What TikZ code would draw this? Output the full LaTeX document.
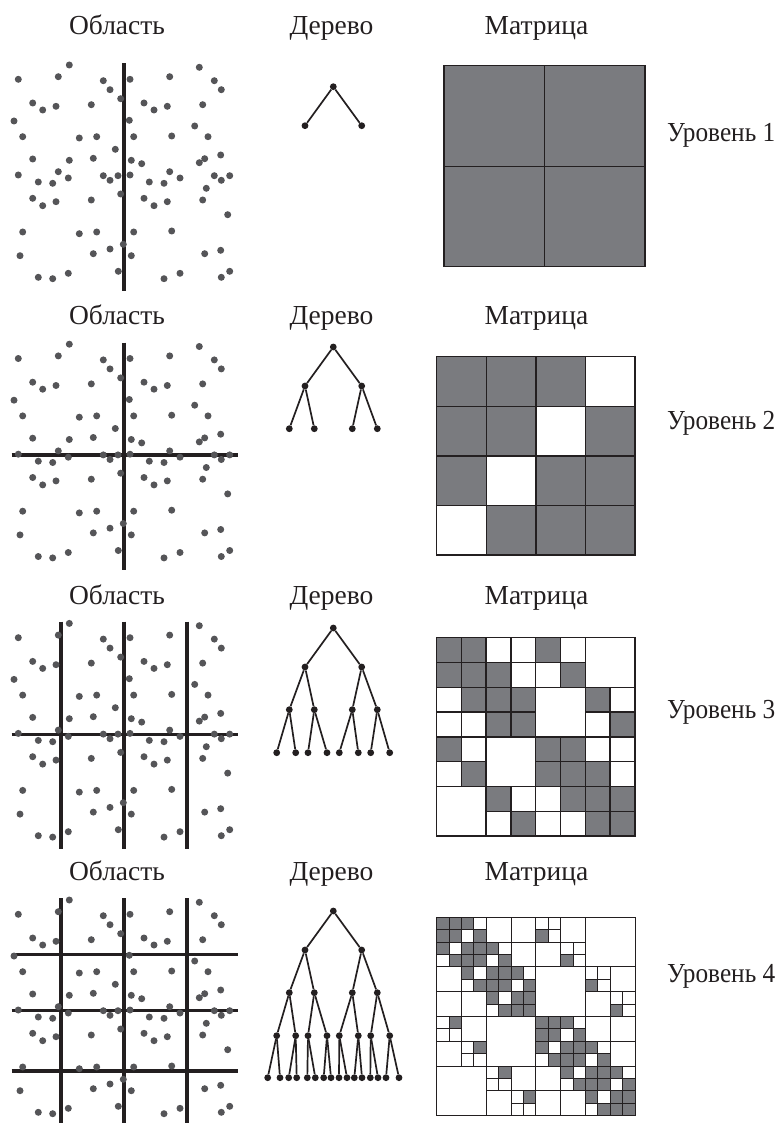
\documentclass[tikz,border=0pt]{standalone}
\usepackage{graphicx}
\usepackage{fontspec}
\setmainfont{Liberation Serif}
\definecolor{ink}{RGB}{35,31,32}
\definecolor{dotc}{RGB}{85,85,88}
\definecolor{mg}{RGB}{122,123,127}
\begin{document}
\begin{tikzpicture}[x=1pt,y=-1pt,
  lab/.style={font=\fontsize{27.5}{30}\selectfont,text=ink,anchor=base,inner sep=0pt},
  lvl/.style={font=\fontsize{27.5}{30}\selectfont,text=ink,anchor=base west,inner sep=0pt},
  pnt/.style={circle,fill=dotc,inner sep=0pt,minimum size=7pt},
  tn/.style={circle,fill=ink,inner sep=0pt,minimum size=6.8pt},
  tedge/.style={draw=ink,line width=1.7pt},
  cut/.style={draw=ink,line width=3.3pt},
  mline/.style={draw=ink,line width=1.3pt},
  mline4/.style={draw=ink,line width=1pt},
]
\useasboundingbox (0,0) rectangle (779,1123);

% ---------- column headers ----------
\foreach \k/\b in {1/34.3,2/324,3/604,4/880}{
  \node[lab] (obl\k) at (117,\b) {Область};
  \node[lab] (der\k) at (331.5,\b) {Дерево};
  \node[lab] (mat\k) at (536.5,\b) {Матрица};
}
\foreach \k/\b in {1/141.7,2/429,3/718,4/982}
  \node[lvl] (lev\k) at (667,\b) {\scalebox{0.92}[1]{Уровень \k}};

% ---------- domain cuts ----------
\draw[cut] (124,63.3) -- (124,291);
\draw[cut] (124,342.5) -- (124,570.2);
\draw[cut] (11.7,455.1) -- (238.3,455.1);
\foreach \x in {61,124,187} \draw[cut] (\x,621.7) -- (\x,849.4);
\draw[cut] (11.7,734.3) -- (238.3,734.3);
\foreach \x in {61,124,187} \draw[cut] (\x,898.3) -- (\x,1126);
\foreach \y in {954.3,1010.7,1071} \draw[cut] (11.7,\y) -- (238.3,\y);

% ---------- points ----------
\foreach \k/\o in {1/0,2/279.2,3/558.4,4/835}{
  \foreach \x/\y [count=\n] in {69.3/65,199.3/67.3,18.3/79.3,58.3/76.7,103.3/80.7,130/79.3,169.7/76.7,214.3/80.7,110/89.7,221.3/89.7,120.7/98.7,32.7/103,42.7/110,56/106.3,91.3/104.7,144/103,154/110,167.3/106.3,202.7/104.7,14/121,129.3/120.3,194.7/126,22.7/136.7,79.3/138,96.7/136.7,133.7/136.7,171.7/136,208/136.7,115.3/149.3,32.7/159,69.3/160.3,93.3/158.3,131.3/160.3,141.7/163.7,199.3/162.7,204.7/158.7,220.7/155,18.3/175,58.3/171.7,68.3/178,103.3/175.7,110/180.3,118/175.7,130/175,169.7/171.7,180/178,214.3/175.7,221.3/180.3,229.7/175.7,38.3/182,52.7/183.3,149.3/182,164/183.3,206.3/188.3,120.7/194,32.7/198.3,42.7/205.7,56/201.7,91.3/200,144/198.3,154/205.7,167.3/201.7,202.7/200,227.7/214.7,22.7/232,79.3/233.7,96.7/232,133.7/232,171.7/231,123.3/244.3,110/249,20/255.7,93.3/253.7,131.3/255.7,204.7/253.7,220.7/250.3,118.3/271.3,38.3/277.3,52.7/278.7,68.3/273.3,164/278.7,180/273.3,221.3/277.3,229.7/271.3}
    \node[pnt] (p\k-\n) at (\x,\y+\o) {};
}

% ---------- trees ----------
\foreach \L/\Y in {1/86.7,2/347,3/628,4/911}{
  \node[tn] (t\L-0-0) at (333.3,\Y) {};
  \foreach \d/\dy/\xs in {1/39/{305,361.7},
      2/81.7/{289.3,314.3,352.3,377.3},
      3/124.7/{276.7,295.7,308,327,339.3,358.3,370.7,389.7},
      4/166.7/{267.7,280,288.7,296.7,307.3,315.3,323.7,331,339,347,354.3,362,370.3,378,386,399}}{
    \ifnum\d>\L\relax\else
      \pgfmathtruncatemacro\pd{\d-1}
      \foreach \x [count=\i from 0] in \xs {
        \pgfmathtruncatemacro\p{div(\i,2)}
        \node[tn] (t\L-\d-\i) at (\x,\Y+\dy) {};
        \draw[tedge] (t\L-\pd-\p) -- (t\L-\d-\i);
      }
    \fi
  }
}

% ---------- matrix level 1 ----------
\fill[mg] (444,65.7) rectangle (645,266.7);
\draw[mline] (444,65.7) rectangle (645,266.7) (544.5,65.7) -- (544.5,266.7) (444,166.2) -- (645,166.2);

% ---------- matrix level 2 ----------
\foreach \r in {0,...,3}{\foreach \c in {0,...,3}{
  \pgfmathtruncatemacro\w{\r+\c==3}
  \pgfmathsetmacro\xx{436.7+\c*49.6}\pgfmathsetmacro\yy{356.7+\r*49.6}
  \ifnum\w=0 \fill[mg] (\xx,\yy) rectangle ++(49.6,49.6); \fi
}}
\foreach \r in {0,...,3}{\foreach \c in {0,...,3}{
  \pgfmathsetmacro\xx{436.7+\c*49.6}\pgfmathsetmacro\yy{356.7+\r*49.6}
  \draw[mline] (\xx,\yy) rectangle ++(49.6,49.6);
}}

% ---------- matrix level 3 ----------
\foreach \R in {0,...,7}{\foreach \C in {0,...,7}{
  \pgfmathtruncatemacro\w{div(\R,2)+div(\C,2)==3}
  \pgfmathtruncatemacro\g{abs(mod(\R,4)-mod(\C,4))+abs(div(\R,4)-div(\C,4))<=1}
  \pgfmathsetmacro\xx{436.5+\C*24.8}\pgfmathsetmacro\yy{637.7+\R*24.8}
  \ifnum\w=0 \ifnum\g=1 \fill[mg] (\xx,\yy) rectangle ++(24.8,24.8); \fi\fi
}}
\foreach \R in {0,...,7}{\foreach \C in {0,...,7}{
  \pgfmathtruncatemacro\w{div(\R,2)+div(\C,2)==3}
  \pgfmathsetmacro\xx{436.5+\C*24.8}\pgfmathsetmacro\yy{637.7+\R*24.8}
  \ifnum\w=0 \draw[mline] (\xx,\yy) rectangle ++(24.8,24.8); \fi
}}
\foreach \a in {0,...,3}{
  \pgfmathsetmacro\xx{436.5+(3-\a)*49.6}\pgfmathsetmacro\yy{637.7+\a*49.6}
  \draw[mline] (\xx,\yy) rectangle ++(49.6,49.6);
}

% ---------- matrix level 4 ----------
\foreach \i in {0,...,15}{\foreach \j in {0,...,15}{
  \pgfmathtruncatemacro\R{div(\i,2)}\pgfmathtruncatemacro\C{div(\j,2)}
  \pgfmathtruncatemacro\gf{abs(mod(\R,4)-mod(\C,4))+abs(2*div(\R,4)+mod(\i,2)-2*div(\C,4)-mod(\j,2))<=1}
  \ifnum\gf=1
    \pgfmathsetmacro\xx{436.7+\j*12.4}\pgfmathsetmacro\yy{917.3+\i*12.4}
    \fill[mg] (\xx,\yy) rectangle ++(12.4,12.4);
  \fi
}}
\foreach \i in {0,...,15}{\foreach \j in {0,...,15}{
  \pgfmathtruncatemacro\R{div(\i,2)}\pgfmathtruncatemacro\C{div(\j,2)}
  \pgfmathtruncatemacro\w{div(\R,2)+div(\C,2)==3}
  \pgfmathtruncatemacro\g{abs(mod(\R,4)-mod(\C,4))+abs(div(\R,4)-div(\C,4))<=1}
  \ifnum\w=0 \ifnum\g=1
    \pgfmathsetmacro\xx{436.7+\j*12.4}\pgfmathsetmacro\yy{917.3+\i*12.4}
    \draw[mline4] (\xx,\yy) rectangle ++(12.4,12.4);
  \fi\fi
}}
\foreach \R in {0,...,7}{\foreach \C in {0,...,7}{
  \pgfmathtruncatemacro\w{div(\R,2)+div(\C,2)==3}
  \pgfmathtruncatemacro\g{abs(mod(\R,4)-mod(\C,4))+abs(div(\R,4)-div(\C,4))<=1}
  \ifnum\w=0 \ifnum\g=0
    \pgfmathsetmacro\xx{436.7+\C*24.8}\pgfmathsetmacro\yy{917.3+\R*24.8}
    \draw[mline4] (\xx,\yy) rectangle ++(24.8,24.8);
  \fi\fi
}}
\foreach \a in {0,...,3}{
  \pgfmathsetmacro\xx{436.7+(3-\a)*49.6}\pgfmathsetmacro\yy{917.3+\a*49.6}
  \draw[mline4] (\xx,\yy) rectangle ++(49.6,49.6);
}
\draw[mline4] (436.7,917.3) rectangle ++(198.4,198.4);
\end{tikzpicture}
\end{document}
